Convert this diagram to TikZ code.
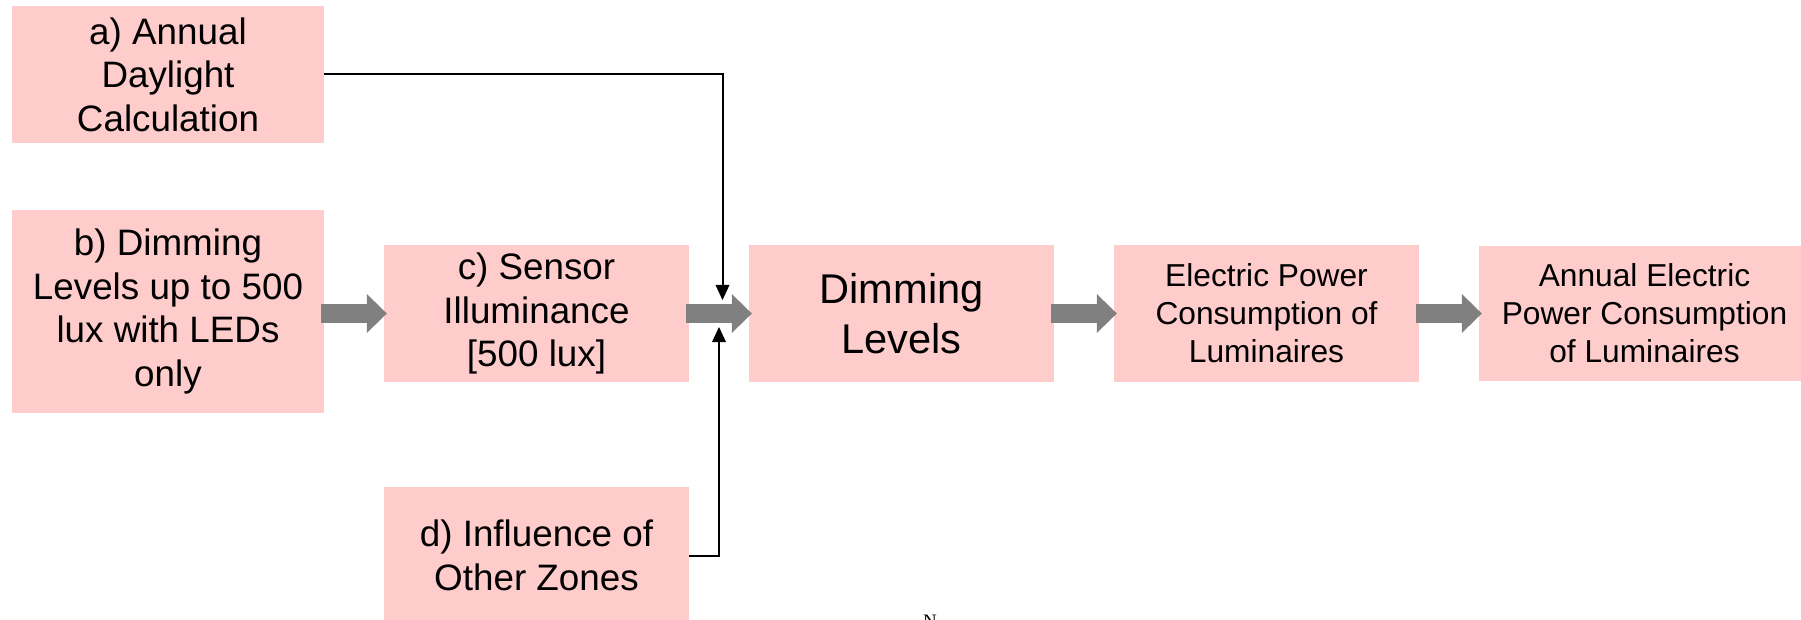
\documentclass[tikz,border=0pt]{standalone}
\usepackage{fontspec}
\setmainfont{Liberation Sans}
\newfontfamily\serifface{Liberation Serif}
\usetikzlibrary{arrows.meta}

\definecolor{boxpink}{RGB}{255,204,204}
\definecolor{flowgray}{RGB}{128,128,128}

\newcommand{\fsmain}{\fontsize{36.8}{43.5}\selectfont}
\newcommand{\fsbig}{\fontsize{41.6}{50}\selectfont}
\newcommand{\fssmall}{\fontsize{31.7}{38}\selectfont}

\tikzset{
  box/.style={fill=boxpink, draw=none, inner sep=0pt, align=center,
    minimum width=305pt, minimum height=137pt, font=\fsmain},
  flow/.style={draw=flowgray, line width=19pt,
    -{Triangle[length=20pt,width=39pt,line width=0pt]},
    shorten <=-3pt, shorten >=-3pt},
  feed/.style={draw=black, line width=2pt,
    -{Triangle[length=15pt,width=14pt,line width=0pt]}},
}

\begin{document}
\begin{tikzpicture}[x=1pt,y=1pt]
\useasboundingbox (0,0) rectangle (1801,-620);

% input boxes
\node[box, minimum width=312pt] (a) at (168,-74.5)
  {a) Annual\\Daylight\\Calculation};
\node[box, minimum width=312pt, minimum height=203pt] (b) at (168,-311.5)
  {b) Dimming\\Levels up to 500\\lux with LEDs\\only};
\node[box] (c) at (536.5,-313.5) {c) Sensor\\Illuminance\\{[500 lux]}};
\node[box] (d) at (536.5,-555.5) {d) Influence of\\Other Zones};

% main chain
\node[box, font=\fsbig] (dim) at (901.5,-313.5) {Dimming\\Levels};
\node[box, font=\fssmall] (elec) at (1266.5,-313.5)
  {Electric Power\\Consumption of\\Luminaires};
\node[box, font=\fssmall, minimum width=331pt, minimum height=135pt] (annual)
  at (1644.5,-313.5) {Annual Electric\\Power Consumption\\of Luminaires};

% thick flow arrows
\draw[flow] (b.east |- c.west) -- (c.west);
\draw[flow] (c.east) -- (dim.west);
\draw[flow] (dim.east) -- (elec.west);
\draw[flow] (elec.east) -- (annual.west);

% side inputs into the c -> dimming arrow
\coordinate (topin) at (722.5,-300);
\coordinate (botin) at (719,-327);
\draw[feed] (a.east) -| (topin);
\draw[feed] (d.east) -| (botin);

% stray footer letter
\node[anchor=north west, inner sep=0pt, font=\serifface\fontsize{19}{19}\selectfont]
  (foot) at (923,-615) {N};
\end{tikzpicture}
\end{document}
